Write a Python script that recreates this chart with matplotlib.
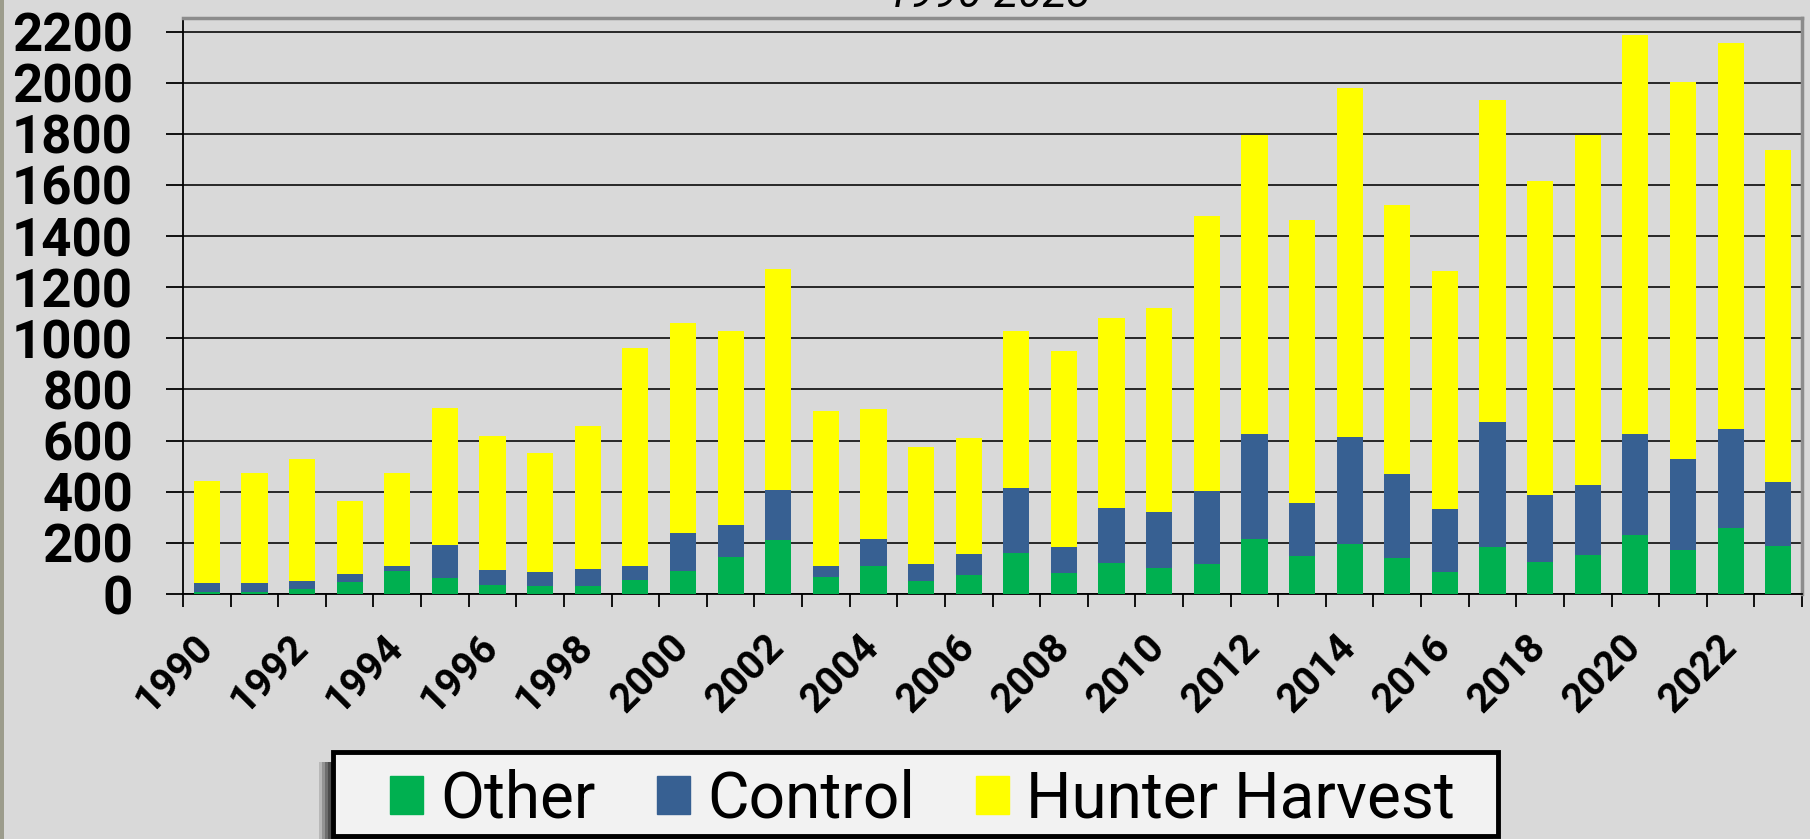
"""Stacked bar chart: Other / Control / Hunter Harvest, 1990-2023."""

import matplotlib
matplotlib.use("Agg")
import matplotlib.pyplot as plt
import numpy as np
from matplotlib.patches import Patch, Rectangle

years = list(range(1990, 2024))
other = [8, 8, 19, 46, 91, 62, 37, 32, 32, 54,
         91, 144, 212, 66, 111, 49, 73, 162, 82, 122,
         100, 117, 216, 148, 195, 141, 85, 185, 127, 153,
         230, 171, 258, 188]
control = [34, 34, 30, 31, 20, 131, 57, 53, 67, 54,
           148, 126, 194, 42, 105, 68, 85, 252, 103, 216,
           220, 285, 411, 209, 420, 330, 246, 489, 262, 272,
           397, 357, 389, 251]
hunter = [401, 432, 479, 285, 363, 536, 524, 467, 559, 854,
          822, 759, 867, 606, 507, 458, 451, 615, 764, 742,
          800, 1075, 1170, 1106, 1363, 1052, 933, 1260, 1227, 1369,
          1559, 1476, 1508, 1299]
series_names = ["Other", "Control", "Hunter Harvest"]
y_ticks = list(range(0, 2201, 200))

GREEN = "#00B050"
BLUE = "#376092"
YELLOW = "#FFFF00"
BG = "#D9D9D9"

plt.rcParams["font.family"] = ["Roboto", "DejaVu Sans"]

fig = plt.figure(figsize=(18.1, 8.39), dpi=100, facecolor=BG)
ax = fig.add_axes([0.1011, 0.2920, 0.8945, 0.6865], facecolor=BG)

x = np.arange(len(years))
other_a = np.array(other)
control_a = np.array(control)
hunter_a = np.array(hunter)
ax.bar(x, other_a, width=0.55, color=GREEN, zorder=3)
ax.bar(x, control_a, bottom=other_a, width=0.55, color=BLUE, zorder=3)
ax.bar(x, hunter_a, bottom=other_a + control_a, width=0.55, color=YELLOW, zorder=3)

ax.set_xlim(-0.5, len(years) - 0.5)
ax.set_ylim(0, 2253)
ax.set_yticks(y_ticks)
ax.set_yticklabels([str(v) for v in y_ticks], fontsize=38, fontweight="bold")
ax.yaxis.grid(True, color="#1a1a1a", linewidth=1.3)
ax.set_axisbelow(True)
ax.tick_params(axis="y", length=12, width=1.3, direction="out", pad=24)

# tick marks between categories, labels on every other year
ax.set_xticks(np.arange(-0.5, len(years), 1))
ax.set_xticklabels([])
ax.set_xticks(x[::2], minor=True)
ax.set_xticklabels([str(y) for y in years[::2]], minor=True, rotation=45,
                   ha="right", va="center", rotation_mode="anchor",
                   fontsize=29, fontweight="bold")
ax.tick_params(axis="x", which="major", length=9.4, width=1.3, direction="out")
ax.tick_params(axis="x", which="minor", length=0, pad=34)

for side in ("left", "bottom"):
    ax.spines[side].set_color("black")
    ax.spines[side].set_linewidth(1.3)
for side in ("top", "right"):
    ax.spines[side].set_color("#8c8c8c")
    ax.spines[side].set_linewidth(2.5)

# title, mostly cut off at the top edge as in the source slide
fig.text(0.5464, 0.9917, "1990-2023", ha="center", va="baseline",
         fontsize=32, style="italic")

# slide border strip on the left
fig.add_artist(Rectangle((0, 0), 4 / 1810, 1, transform=fig.transFigure,
                         facecolor="#9c9c8c", edgecolor="none"))

# legend box with a soft shadow
bx, by, bw, bh = 333 / 1810, 3 / 839, 1165 / 1810, 84 / 839
for i, a in enumerate([0.15, 0.2, 0.25, 0.3]):
    d = 14 - 3 * i
    fig.add_artist(Rectangle((bx - d / 1810, by - 10 / 839), bw, bh,
                             transform=fig.transFigure, facecolor="black",
                             edgecolor="none", alpha=a))
fig.add_artist(Rectangle((bx, by), bw, bh, transform=fig.transFigure,
                         facecolor="#F2F2F2", edgecolor="black", linewidth=3.5))

handles = [Patch(color=GREEN), Patch(color=BLUE), Patch(color=YELLOW)]
fig.legend(handles, series_names, loc="center", bbox_to_anchor=(0.5096, 0.047),
           ncol=3, frameon=False, fontsize=46, handlelength=0.52,
           handleheight=0.55, handletextpad=0.27, columnspacing=0.95)

fig.savefig("out.png", dpi=100, facecolor=BG)
